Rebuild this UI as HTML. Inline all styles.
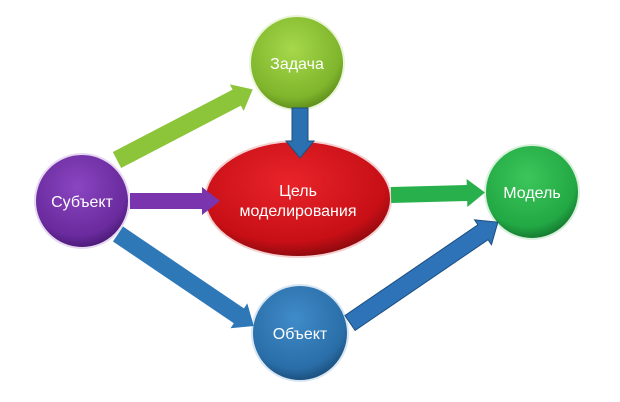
<!DOCTYPE html>
<html><head><meta charset="utf-8"><style>
html,body{margin:0;padding:0;background:#fff;}
svg{display:block;}
text{font-family:"Liberation Sans",sans-serif;fill:#fff;font-size:16px;text-anchor:middle;}
</style></head><body>
<svg width="620" height="402" viewBox="0 0 620 402" xmlns="http://www.w3.org/2000/svg">
<defs>
<radialGradient id="gL" cx="45%" cy="35%" r="65%"><stop offset="0" stop-color="#a6d84a"/><stop offset="0.8" stop-color="#7fb52c"/><stop offset="1" stop-color="#5f8f1c"/></radialGradient>
<radialGradient id="gR" cx="45%" cy="35%" r="65%"><stop offset="0" stop-color="#e8242a"/><stop offset="0.8" stop-color="#c80f16"/><stop offset="1" stop-color="#8e0a0e"/></radialGradient>
<radialGradient id="gP" cx="45%" cy="35%" r="65%"><stop offset="0" stop-color="#8a45c0"/><stop offset="0.8" stop-color="#6a2b9e"/><stop offset="1" stop-color="#4c1a78"/></radialGradient>
<radialGradient id="gG" cx="45%" cy="35%" r="65%"><stop offset="0" stop-color="#3cc65a"/><stop offset="0.8" stop-color="#22a844"/><stop offset="1" stop-color="#157a30"/></radialGradient>
<radialGradient id="gB" cx="45%" cy="35%" r="65%"><stop offset="0" stop-color="#3f8bc9"/><stop offset="0.8" stop-color="#2a6ea8"/><stop offset="1" stop-color="#1b4f7d"/></radialGradient>
</defs>
<circle cx="297" cy="63" r="47" fill="url(#gL)" stroke="#eaf5d8" stroke-width="2"/>
<circle cx="82" cy="201" r="47" fill="url(#gP)" stroke="#e6d8f0" stroke-width="2"/>
<ellipse cx="298" cy="199" rx="93" ry="58" fill="url(#gR)" stroke="#f5d0d0" stroke-width="2"/>
<circle cx="532" cy="192" r="47" fill="url(#gG)" stroke="#d8f0dc" stroke-width="2"/>
<circle cx="300" cy="333" r="48" fill="url(#gB)" stroke="#d8e6f2" stroke-width="2"/>

<g fill="#8cc43a" transform="translate(117,160) rotate(-27.5)"><path d="M0,-9 H135 V-15 L153,0 L135,15 V9 H0Z"/></g>
<g fill="#2b70b0" stroke="#1d4f80" stroke-width="1" transform="translate(300,108) rotate(90)"><path d="M0,-8 H33 V-14 L50,0 L33,14 V8 H0Z"/></g>
<g fill="#7a35ae" transform="translate(130,201)"><path d="M0,-8 H72 V-14 L90,0 L72,14 V8 H0Z"/></g>
<g fill="#27b04c" transform="translate(391,195) rotate(-1.5)"><path d="M0,-8 H76 V-14 L94,0 L76,14 V8 H0Z"/></g>
<g fill="#2e78b8" transform="translate(118,234) rotate(34.1)"><path d="M0,-9 H146 V-15 L164,0 L146,15 V9 H0Z"/></g>
<g fill="#2e72b8" stroke="#1d4f80" stroke-width="1" transform="translate(350,323) rotate(-34.3)"><path d="M0,-9 H161 V-15 L179,0 L161,15 V9 H0Z"/></g>

<text x="297" y="69">Задача</text>
<text x="82" y="207">Субъект</text>
<text x="298" y="196">Цель</text>
<text x="298" y="216">моделирования</text>
<text x="532" y="198">Модель</text>
<text x="300" y="339">Объект</text>
</svg>
</body></html>
